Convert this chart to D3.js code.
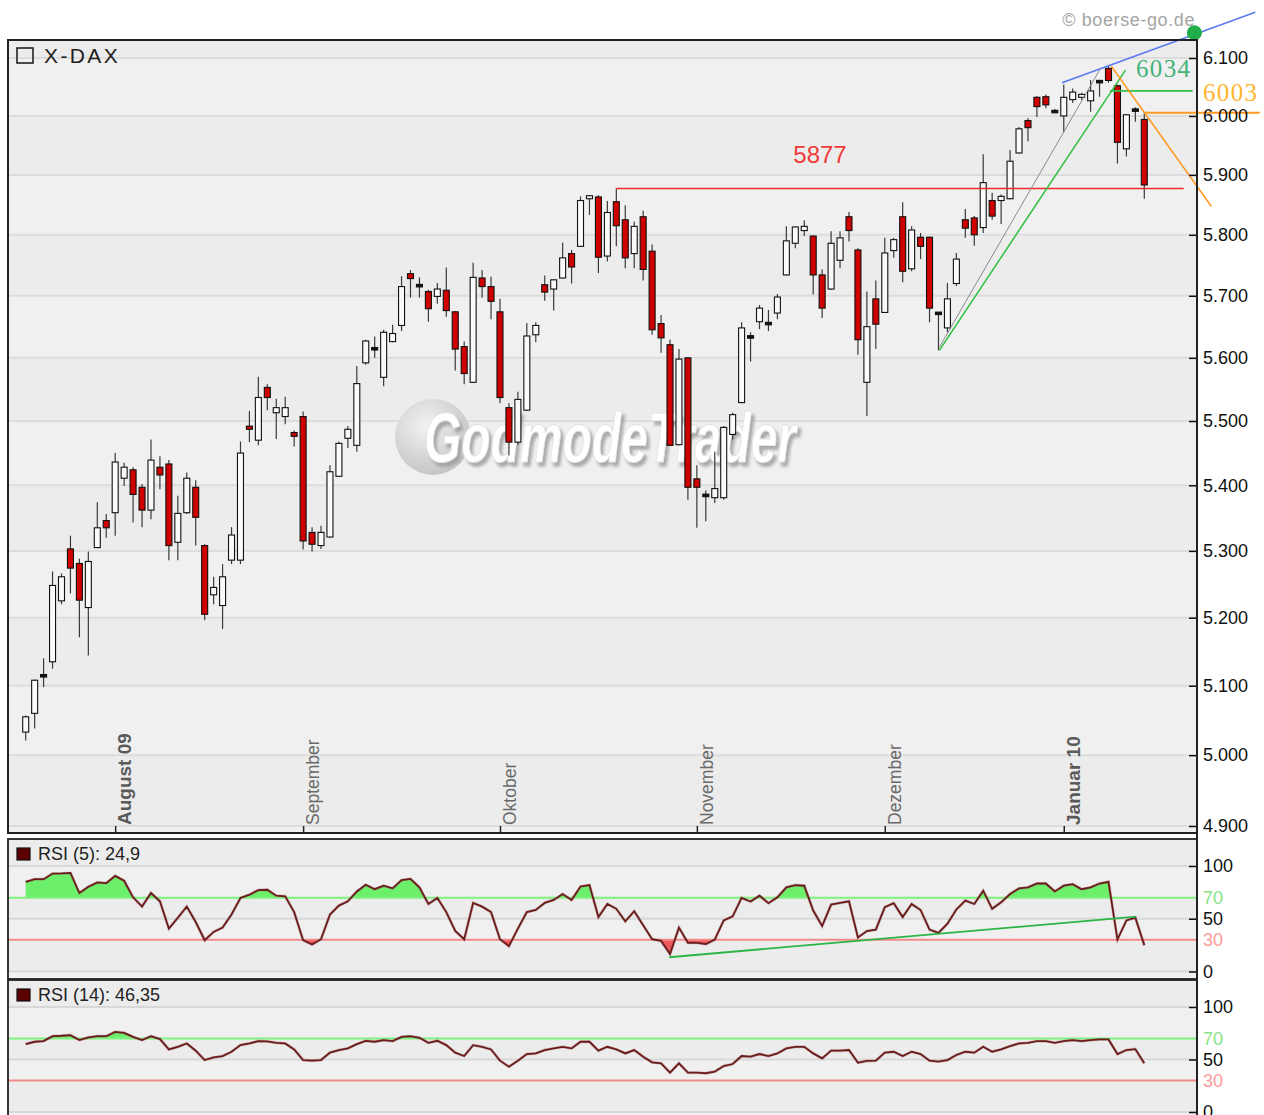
<!DOCTYPE html>
<html><head><meta charset="utf-8">
<script src="https://cdn.jsdelivr.net/npm/d3@7"></script>
<style>
html,body{margin:0;padding:0;background:#fff;}
svg{display:block;font-family:"Liberation Sans",Arial,sans-serif;}
</style></head><body>
<svg id="chart" width="1264" height="1115"></svg>
<script>
// ---------------- DATA ----------------
const openP = [5033,5060,5116,5135,5225,5303,5281,5215,5305,5346,
5358,5411,5424,5397,5362,5428,5433,5313,5358,5397,
5308,5234,5218,5286,5286,5492,5470,5553,5513,5507,
5482,5507,5328,5308,5321,5414,5473,5462,5592,5615,
5569,5626,5652,5736,5717,5707,5699,5709,5674,5618,
5561,5729,5715,5674,5521,5467,5517,5637,5718,5711,
5729,5769,5781,5860,5863,5765,5855,5825,5769,5830,
5773,5655,5621,5463,5600,5410,5385,5381,5381,5479,
5529,5634,5658,5655,5672,5734,5786,5807,5798,5734,
5711,5758,5830,5775,5561,5695,5673,5774,5830,5744,
5796,5796,5672,5648,5720,5825,5828,5812,5857,5857,
5860,5937,5992,6032,6033,6008,6000,6028,6032,6026,
6059,6082,6052,5944,6010,5994];
const highP = [5057,5109,5140,5269,5266,5323,5288,5299,5374,5356,
5450,5435,5428,5402,5471,5445,5439,5384,5420,5408,
5310,5261,5280,5336,5468,5516,5570,5558,5535,5538,
5485,5515,5336,5338,5431,5468,5492,5587,5629,5634,
5645,5653,5732,5742,5730,5710,5721,5746,5675,5626,
5754,5742,5731,5695,5528,5546,5656,5657,5733,5727,
5787,5775,5864,5866,5866,5856,5877,5849,5822,5840,
5784,5669,5629,5614,5601,5431,5392,5452,5492,5513,
5657,5641,5685,5677,5703,5814,5814,5824,5799,5743,
5806,5806,5838,5778,5707,5725,5795,5795,5854,5814,
5803,5797,5673,5721,5770,5843,5831,5935,5870,5867,
5942,5981,5996,6034,6037,6012,6054,6047,6040,6062,
6062,6086,6054,6003,6015,6006];
const lowP = [5021,5038,5098,5125,5220,5236,5171,5144,5305,5320,
5323,5399,5343,5336,5348,5394,5286,5286,5356,5308,
5196,5220,5183,5280,5280,5467,5462,5517,5472,5495,
5460,5302,5299,5303,5320,5413,5458,5452,5589,5600,
5555,5625,5643,5697,5697,5658,5687,5666,5580,5558,
5560,5697,5662,5528,5446,5463,5516,5625,5692,5676,
5728,5720,5780,5833,5737,5756,5781,5745,5745,5725,
5637,5608,5461,5462,5378,5335,5345,5373,5378,5471,
5528,5594,5646,5643,5662,5733,5778,5798,5702,5664,
5710,5745,5789,5605,5508,5614,5672,5762,5722,5740,
5760,5657,5612,5641,5716,5795,5782,5803,5825,5818,
5859,5936,5957,5998,6013,6005,5973,6022,6028,6007,
6033,6057,5919,5931,5990,5860];
const closeP = [5055,5108,5113,5248,5261,5274,5226,5284,5335,5335,
5436,5428,5386,5362,5439,5416,5308,5357,5411,5351,
5205,5245,5261,5324,5450,5487,5537,5537,5521,5521,
5476,5315,5310,5328,5421,5465,5487,5559,5627,5614,
5641,5639,5715,5728,5716,5679,5711,5676,5614,5575,
5730,5715,5691,5537,5467,5534,5635,5652,5706,5726,
5762,5747,5857,5865,5763,5837,5815,5762,5814,5743,
5645,5632,5462,5598,5397,5397,5384,5395,5490,5510,
5648,5633,5680,5655,5698,5790,5813,5814,5734,5680,
5786,5795,5807,5629,5650,5654,5770,5792,5740,5808,
5781,5680,5671,5695,5760,5811,5800,5887,5831,5864,
5923,5978,5980,6016,6019,6007,6032,6041,6037,6043,
6059,6061,5955,6002,6010,5883];
const rsi5 = [85,87.5,87.5,92.8,93,93.4,74.4,80.3,84.4,83.7,
90.6,86,70.3,61.5,74.4,66.5,40.6,51,61.5,46.9,
29.7,37.5,41.6,54,69.7,72.8,77.2,77.5,71.9,71.3,
56.3,29.7,25.6,30.6,54,62.5,66.5,75.9,82.2,78,
81.3,78.8,86.6,87.8,79.7,64,69.7,56.3,38.4,30.6,
65,61.5,56.3,30.6,24,40.6,56.3,58.4,65,67.8,
73.4,67.8,80.6,81.9,51.6,64,59.4,47.5,57.2,43.8,
30.6,29,16.6,41.6,27.2,27.2,25.9,30.3,48.4,52.2,
69.7,66.3,71.9,64.7,70.3,79.7,81.9,81.3,57.8,43.1,
63.4,65,66.5,32.2,38.4,39.7,61,64.7,51.6,64,
58.3,39.7,36.6,45.3,58.8,67.2,64,76.6,59.4,65.6,
73.4,78.8,79.7,83.4,83.4,75.9,81.3,82.8,78,79.7,
83.4,85,30.3,48.4,51,24.9];
const rsi14 = [64.7,66.9,67.5,72.2,72.6,73.2,68.5,71,72.2,72.2,
76.3,75.4,71.6,68.5,72.2,69.4,59.6,62.1,65.3,58.4,
49.5,52,53.3,57.4,63.7,65.3,67.5,67.2,65.9,65.3,
59.6,49.5,48.9,49.5,56.5,59,60.6,64.7,67.8,66.9,
68.5,67.5,71.6,72.2,70.7,65.9,67.8,63.7,56.5,53.3,
63.7,62.1,59.6,48.9,43.2,48.9,55.2,55.8,59,60.6,
62.1,60.6,66.9,66.9,58.4,62.1,59.6,55.8,59,52.7,
47.3,46.4,37.5,46.4,37.5,37.5,36.9,38.5,43.8,45.7,
53.3,52.7,55.2,53.3,55.8,60.6,62.1,62.1,55.8,51.1,
58.4,58.4,59,47,48.6,48.9,56.5,57.4,53.3,57.4,
55.2,48.9,48,49.5,54.3,57.4,56.5,62.1,57.4,59.6,
62.8,65.3,65.9,67.5,67.5,65.9,67.5,68.5,67.5,68.5,
69.1,69.1,55.2,59,59.9,46.35];
const monthIdx = [10,31,53,75,96,116];
const monthLabels = ["August 09","September","Oktober","November","Dezember","Januar 10"];
const monthBold = [true,false,false,false,false,true];
const priceTicks = d3.range(4900, 6101, 100);
const rsiTicks = [0,30,50,70,100];
// annotation lines, as [candle index, price]
const resistanceLine = [[66,5877],[129.4,5877]];
const resistanceLabel = "5877";
const upperLine = [[115.8,6057],[137.4,6180]];
const upperDot = [130.6,6144];
const greenTrend = [[102.1,5612],[122.9,6079]];
const grayTrend = [[102.1,5617],[120.0,6079]];
const greenLevel = [[121.15,6043],[130.4,6043]];
const greenLabel = "6034";
const orangeTrend = [[121.3,6086],[132.5,5847]];
const orangeLevel = [[125,6005.5],[137.9,6005.5]];
const orangeLabel = "6003";
const rsi5Trend = [[71.9,13.5],[124.1,52]];
const title = "X-DAX";
const rsi5Label = "RSI (5): 24,9";
const rsi14Label = "RSI (14): 46,35";

// ---------------- SCALES ----------------
const svg = d3.select("#chart");
const L = 8, R = 1197;
const main = {top:40, bottom:833};
const p5 = {top:839, bottom:979};
const p14 = {top:980, bottom:1120};
const x = d3.scaleLinear().domain([0,125]).range([25.7,1144.3]);
const y = d3.scaleLog().domain([4900,6100]).range([826,58]);
const y5 = d3.scaleLinear().domain([0,100]).range([971.5,866]);
const y14 = d3.scaleLinear().domain([0,100]).range([1112,1007]);
const de = d3.formatLocale({decimal:",", thousands:".", grouping:[3], currency:["","€"]});
const fmt = de.format(",");

// ---------------- BACKGROUNDS ----------------
function bands(g, bounds) {
  for (let k=0;k<bounds.length-1;k++){
    g.append("rect").attr("x",L).attr("width",R-L)
     .attr("y",bounds[k]).attr("height",bounds[k+1]-bounds[k])
     .attr("fill", k%2===0 ? "#ececec" : "#f0f0f0");
  }
}
const bg = svg.append("g");
bands(bg, [main.top, ...priceTicks.slice().reverse().map(y), main.bottom]);
bands(bg, [p5.top, y5(100), y5(70), y5(50), y5(30), y5(0), p5.bottom]);
bands(bg, [p14.top, y14(100), y14(70), y14(50), y14(30), y14(0), p14.bottom]);

// gridlines
const grid = svg.append("g");
grid.selectAll("line.pg").data(priceTicks).join("line")
  .attr("x1",L).attr("x2",R).attr("y1",d=>y(d)).attr("y2",d=>y(d))
  .attr("stroke","#dcdcdc").attr("stroke-width",2);
[y5, y14].forEach(ys=>{
  [100,50,0].forEach(v=>grid.append("line").attr("x1",L).attr("x2",R)
    .attr("y1",ys(v)).attr("y2",ys(v)).attr("stroke","#d8d8d8").attr("stroke-width",2));
});

// ---------------- WATERMARK ----------------
const defs = svg.append("defs");
const rg = defs.append("radialGradient").attr("id","wmg").attr("cx","40%").attr("cy","35%").attr("r","65%");
rg.append("stop").attr("offset","0%").attr("stop-color","#f2f2f2");
rg.append("stop").attr("offset","100%").attr("stop-color","#c6c6c6");
const sh = defs.append("filter").attr("id","wmshadow").attr("x","-5%").attr("y","-20%").attr("width","115%").attr("height","150%");
sh.append("feDropShadow").attr("dx",3).attr("dy",4).attr("stdDeviation",1.5)
  .attr("flood-color","#9a9a9a").attr("flood-opacity",0.8);
svg.append("circle").attr("cx",433).attr("cy",437).attr("r",38).attr("fill","url(#wmg)");
svg.append("text").attr("x",424).attr("y",462).attr("font-size",70).attr("font-weight","bold")
  .attr("font-style","italic").attr("textLength",372).attr("lengthAdjust","spacingAndGlyphs")
  .attr("fill","#ffffff").attr("stroke","#e2e2e2").attr("stroke-width",1)
  .attr("filter","url(#wmshadow)").text("GodmodeTrader");

// ---------------- CANDLES ----------------
const candles = d3.range(openP.length).map(i=>({i,o:openP[i],h:highP[i],l:lowP[i],c:closeP[i]}));
const cg = svg.append("g");
cg.selectAll("line.wick").data(candles).join("line")
  .attr("x1",d=>x(d.i)).attr("x2",d=>x(d.i))
  .attr("y1",d=>y(d.h)).attr("y2",d=>y(d.l))
  .attr("stroke","#3a3a3a").attr("stroke-width",1.2);
cg.selectAll("rect.body").data(candles).join("rect")
  .attr("x",d=>x(d.i)-3).attr("width",6)
  .attr("y",d=>{const a=y(Math.max(d.o,d.c)), b=y(Math.min(d.o,d.c)); return (b-a)<2.5 ? (a+b)/2-1.25 : a;})
  .attr("height",d=>{const a=y(Math.max(d.o,d.c)), b=y(Math.min(d.o,d.c)); return Math.max(2.5,b-a);})
  .attr("fill",d=>{const a=y(Math.max(d.o,d.c)), b=y(Math.min(d.o,d.c));
     if (b-a<2.5) return "#111"; return d.c>=d.o ? "#fafafa" : "#d00000";})
  .attr("stroke","#111").attr("stroke-width",1.1);

// ---------------- ANNOTATIONS (main) ----------------
const pl = d3.line().x(d=>x(d[0])).y(d=>y(d[1]));
const ann = svg.append("g").attr("fill","none");
ann.append("path").attr("d",pl(resistanceLine)).attr("stroke","#ee2a2a").attr("stroke-width",1.6);
ann.append("path").attr("d",pl(grayTrend)).attr("stroke","#8a8a8a").attr("stroke-width",1);
ann.append("path").attr("d",pl(greenTrend)).attr("stroke","#2fbf3f").attr("stroke-width",1.5);
ann.append("path").attr("d",pl(greenLevel)).attr("stroke","#33c044").attr("stroke-width",1.6);
ann.append("path").attr("d",pl(orangeTrend)).attr("stroke","#ff9a22").attr("stroke-width",1.5);
ann.append("path").attr("d",pl(orangeLevel)).attr("stroke","#ff9a22").attr("stroke-width",2);
ann.append("path").attr("d",pl(upperLine)).attr("stroke","#5a78f0").attr("stroke-width",1.5);
svg.append("circle").attr("cx",x(upperDot[0])).attr("cy",y(upperDot[1])).attr("r",7.5).attr("fill","#1fae4a");

svg.append("text").attr("x",820).attr("y",y(5877)-26).attr("text-anchor","middle")
  .attr("font-size",24).attr("fill","#f03a3a").text(resistanceLabel);
svg.append("text").attr("x",1163).attr("y",77).attr("text-anchor","middle")
  .attr("font-family","'Liberation Serif','DejaVu Serif',serif").attr("font-size",25)
  .attr("textLength",54).attr("fill","#45b377").text(greenLabel);
svg.append("text").attr("x",1230).attr("y",101).attr("text-anchor","middle")
  .attr("font-family","'Liberation Serif','DejaVu Serif',serif").attr("font-size",25)
  .attr("textLength",54).attr("fill","#ffb52e").text(orangeLabel);

// ---------------- RSI PANELS ----------------
function rsiPanel(data, ys, panel, id) {
  const area = d3.area().x((d,i)=>x(i)).y0(ys(70)).y1(d=>ys(d));
  const area2 = d3.area().x((d,i)=>x(i)).y0(ys(30)).y1(d=>ys(d));
  defs.append("clipPath").attr("id",id+"a").append("rect")
    .attr("x",L).attr("width",R-L).attr("y",panel.top).attr("height",ys(70)-panel.top);
  defs.append("clipPath").attr("id",id+"b").append("rect")
    .attr("x",L).attr("width",R-L).attr("y",ys(30)).attr("height",panel.bottom-ys(30));
  const g = svg.append("g");
  g.append("path").attr("d",area(data)).attr("fill","#6cf06c").attr("clip-path",`url(#${id}a)`);
  g.append("path").attr("d",area2(data)).attr("fill","#f05a5a").attr("clip-path",`url(#${id}b)`);
  g.append("line").attr("x1",L).attr("x2",R).attr("y1",ys(70)).attr("y2",ys(70)).attr("stroke","#7ef27e").attr("stroke-width",2);
  g.append("line").attr("x1",L).attr("x2",R).attr("y1",ys(30)).attr("y2",ys(30)).attr("stroke","#f38a8a").attr("stroke-width",2);
  const ln = d3.line().x((d,i)=>x(i)).y(d=>ys(d));
  g.append("path").attr("d",ln(data)).attr("fill","none").attr("stroke","#9a5a5a").attr("stroke-width",3).attr("opacity",0.35);
  g.append("path").attr("d",ln(data)).attr("fill","none").attr("stroke","#6a1c1c").attr("stroke-width",1.8);
  const ax = d3.axisRight(ys).tickValues(rsiTicks).tickSize(-8).tickPadding(6).tickFormat(d3.format("d"));
  const ag = svg.append("g").attr("transform",`translate(${R},0)`).call(ax);
  ag.select(".domain").remove();
  ag.selectAll("text").attr("font-size",18).attr("font-family","'Liberation Sans',Arial,sans-serif")
    .attr("fill",d=> d===70 ? "#86e486" : d===30 ? "#ff9a9a" : "#111");
  ag.selectAll("line").attr("stroke",d=> (d===70||d===30) ? "none" : "#111").attr("stroke-width",1.5);
}
rsiPanel(rsi5, y5, p5, "r5");
rsiPanel(rsi14, y14, p14, "r14");
const ll = d3.line().x(d=>x(d[0])).y(d=>y5(d[1]));
svg.append("path").attr("d",ll(rsi5Trend)).attr("fill","none").attr("stroke","#2db446").attr("stroke-width",1.8);

// ---------------- AXES (main) ----------------
const yAx = d3.axisRight(y).tickValues(priceTicks).tickSize(-8).tickPadding(6).tickFormat(fmt);
const yg = svg.append("g").attr("transform",`translate(${R},0)`).call(yAx);
yg.select(".domain").remove();
yg.selectAll("text").attr("font-size",18).attr("font-family","'Liberation Sans',Arial,sans-serif").attr("fill","#111");
yg.selectAll("line").attr("stroke","#111").attr("stroke-width",1.5);

const xAx = d3.axisBottom(x).tickValues(monthIdx).tickSize(-7).tickFormat((d,i)=>monthLabels[i]);
const xg = svg.append("g").attr("transform",`translate(0,${main.bottom})`).call(xAx);
xg.select(".domain").remove();
xg.selectAll("line").attr("stroke","#222").attr("stroke-width",1.5);
xg.selectAll("text")
  .attr("transform","rotate(-90)").attr("x",8).attr("y",15.5).attr("dy",0)
  .attr("text-anchor","start").attr("font-family","'Liberation Sans',Arial,sans-serif")
  .attr("font-size",(d,i)=>monthBold[i]?19:17.5)
  .attr("font-weight",(d,i)=>monthBold[i]?"bold":"normal")
  .attr("fill",(d,i)=>monthBold[i]?"#5a5a5a":"#6a6a6a");

// ---------------- FRAMES ----------------
const fr = svg.append("g").attr("fill","none").attr("stroke","#222");
fr.append("rect").attr("x",L).attr("y",main.top).attr("width",R-L).attr("height",main.bottom-main.top).attr("stroke-width",2);
fr.append("rect").attr("x",L).attr("y",p5.top).attr("width",R-L).attr("height",p5.bottom-p5.top).attr("stroke-width",1.8);
fr.append("rect").attr("x",L).attr("y",p14.top).attr("width",R-L).attr("height",p14.bottom-p14.top).attr("stroke-width",1.8);
fr.append("line").attr("x1",R).attr("x2",R).attr("y1",main.top).attr("y2",1115).attr("stroke-width",2);

// ---------------- TITLES ----------------
svg.append("rect").attr("x",17).attr("y",48).attr("width",16).attr("height",15)
  .attr("fill","none").attr("stroke","#222").attr("stroke-width",1.6);
svg.append("text").attr("x",44).attr("y",63).attr("font-size",21).attr("letter-spacing",2.4)
  .attr("fill","#222").text(title);
[[rsi5Label,p5.top],[rsi14Label,p14.top]].forEach(([t,top])=>{
  svg.append("rect").attr("x",17).attr("y",top+9).attr("width",13).attr("height",12)
    .attr("fill","#5a0000").attr("stroke","#111").attr("stroke-width",1.2);
  svg.append("text").attr("x",38).attr("y",top+21).attr("font-size",18).attr("fill","#222").text(t);
});
svg.append("text").attr("x",1195).attr("y",26).attr("text-anchor","end").attr("font-size",18)
  .attr("letter-spacing",0.6).attr("fill","#a5a5a5").text("© boerse-go.de");
</script>
</body></html>
